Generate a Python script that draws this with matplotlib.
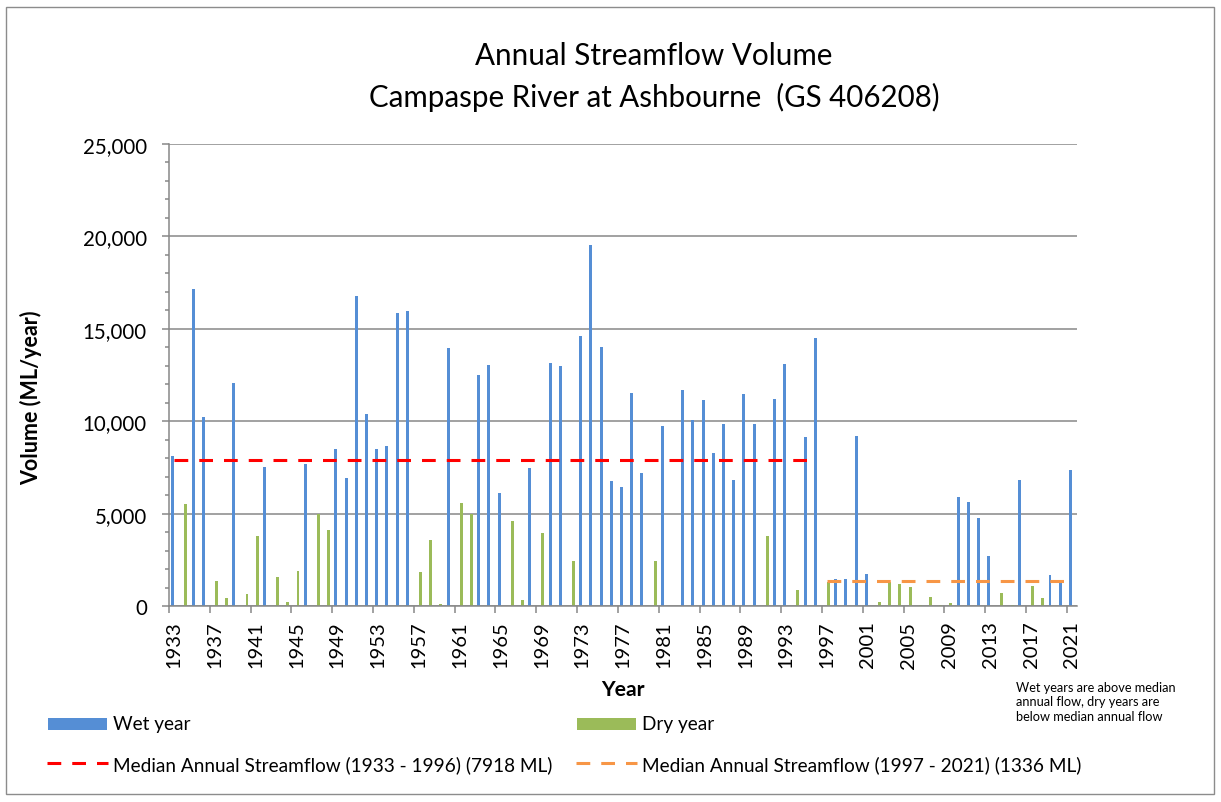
import matplotlib
matplotlib.use("Agg")
import matplotlib.pyplot as plt
from matplotlib.lines import Line2D
from matplotlib.patches import Rectangle
from matplotlib.ticker import FuncFormatter, FixedLocator
import numpy as np

# ---------------- data ----------------
years = list(range(1933, 2022))
flow_ml = [
    8100, 5500, 17130, 10230, 1350, 420, 12080, 650, 3790, 7510,      # 1933-1942
    1590, 240, 1880, 7710, 4960, 4100, 8500, 6900, 16800, 10400,      # 1943-1952
    8520, 8660, 15850, 15970, 1860, 3570, 110, 13950, 5560, 4970,     # 1953-1962
    12490, 13050, 6100, 4590, 330, 7470, 3950, 13140, 13000, 2460,    # 1963-1972
    14620, 19530, 14010, 6750, 6460, 11530, 7200, 2440, 9730, 0,      # 1973-1982
    11680, 10050, 11160, 8290, 9860, 6820, 11480, 9860, 3790, 11210,  # 1983-1992
    13090, 870, 9130, 14510, 1300, 1440, 1440, 9210, 1720, 200,       # 1993-2002
    1300, 1190, 1050, 30, 470, 30, 140, 5880, 5610, 4750,             # 2003-2012
    2730, 700, 40, 6810, 1100, 430, 1680, 1410, 7360,                 # 2013-2021
]
year_type = list(
    "WDWWDDWDDW"
    "DDDWDDWWWW"
    "WWWWDDDWDD"
    "WWWDDWDWWD"
    "WWWWWWWDWD"
    "WWWWWWWWDW"
    "WDWWDWWWWD"
    "DDDDDDDWWW"
    "WDDWDDWWW"
)
median_early = 7918   # 1933 - 1996
median_late = 1336    # 1997 - 2021
early_period = (1933, 1996)
late_period = (1997, 2021)
tick_years = years[::4]

wet_label = "Wet year"
dry_label = "Dry year"
early_label = "Median Annual Streamflow (1933 - 1996) (7918 ML)"
late_label = "Median Annual Streamflow (1997 - 2021) (1336 ML)"
note_text = "Wet years are above median\nannual flow, dry years are\nbelow median annual flow"

# ---------------- style ----------------
BLUE = "#558ED5"
GREEN = "#9BBB59"
RED = "#FF0000"
ORANGE = "#F79646"
GRID = "#878787"

W, H, DPI = 1221, 803, 100
plt.rcParams["font.family"] = ["Lato", "DejaVu Sans"]
fig = plt.figure(figsize=(W / DPI, H / DPI), dpi=DPI)
fig.patch.set_facecolor("white")


def fx(px):
    return px / W


def fy(py):
    return 1 - py / H


# outer chart border
fig.add_artist(Rectangle((fx(6), fy(795)), fx(1214) - fx(6), fy(8) - fy(795),
                         transform=fig.transFigure, fill=False,
                         edgecolor="#8C8C8C", linewidth=1.0))

ax = fig.add_axes([fx(169), fy(607), fx(1077) - fx(169), fy(145) - fy(607)])

x = np.arange(len(years))
flow = np.array(flow_ml, dtype=float)
types = np.array(year_type)
wet = types == "W"
dry = types == "D"
bw = 0.29
ax.bar(x[wet] - bw / 2, flow[wet], width=bw, color=BLUE, linewidth=0, zorder=3)
ax.bar(x[dry] + bw / 2, flow[dry], width=bw, color=GREEN, linewidth=0, zorder=3)

yrs = np.array(years)
e_idx = x[(yrs >= early_period[0]) & (yrs <= early_period[1])]
l_idx = x[(yrs >= late_period[0]) & (yrs <= late_period[1])]
dash = (4.5, 3.6)
lw = 2.2
ax.plot(e_idx, [median_early] * len(e_idx), color=RED, lw=lw,
        dashes=dash, solid_capstyle="butt", dash_capstyle="butt", zorder=4)
ax.plot(l_idx, [median_late] * len(l_idx), color=ORANGE, lw=lw,
        dashes=dash, solid_capstyle="butt", dash_capstyle="butt", zorder=4)

ax.set_xlim(-0.5, len(years) - 0.5)
ax.set_ylim(0, 25000)

# x ticks: marks at category boundaries, labels at centres
ax.xaxis.set_major_locator(FixedLocator(np.arange(-0.5, len(years), 4)))
ax.xaxis.set_minor_locator(FixedLocator([years.index(y) for y in tick_years]))
ax.set_xticklabels([], minor=False)
ax.set_xticklabels([str(y) for y in tick_years], minor=True, rotation=90)
ax.tick_params(axis="x", which="major", length=7 * 72 / DPI, width=1.1,
               color=GRID, direction="out")
ax.tick_params(axis="x", which="minor", length=0, pad=10.5, labelsize=14.5,
               labelcolor="black")

# y ticks
ax.set_yticks(np.arange(0, 25001, 5000))
ax.yaxis.set_minor_locator(FixedLocator(np.arange(0, 25001, 1000)))
ax.yaxis.set_major_formatter(FuncFormatter(lambda v, p: f"{int(v):,}"))
ax.tick_params(axis="y", which="major", length=7 * 72 / DPI, width=1.1,
               color=GRID, direction="out", pad=10.8, labelsize=14.8,
               labelcolor="black")
ax.tick_params(axis="y", which="minor", length=4 * 72 / DPI, width=1.1,
               color=GRID, direction="out")

ax.yaxis.grid(True, which="major", color=GRID, linewidth=1.1, zorder=0)
ax.set_axisbelow(True)
for s in ("top", "right"):
    ax.spines[s].set_visible(False)
for s in ("left", "bottom"):
    ax.spines[s].set_color(GRID)
    ax.spines[s].set_linewidth(1.1)
    ax.spines[s].set_zorder(5)

# titles and axis labels
t1 = fig.text(fx(654), fy(65), "Annual Streamflow Volume", ha="center",
              va="baseline", fontsize=19, color="black")
t2 = fig.text(fx(654.5), fy(107), "Campaspe River at Ashbourne  (GS 406208)",
              ha="center", va="baseline", fontsize=19, color="black")
yl = fig.text(fx(31), fy(398), "Volume (ML/year)", rotation=90, ha="center",
              va="center", fontsize=14, fontweight="bold", color="black")
xl = fig.text(fx(623), fy(690), "Year", ha="center", va="center",
              fontsize=14, fontweight="bold", color="black")

# legend
fig.add_artist(Rectangle((fx(48), fy(731)), fx(107) - fx(48), fy(719) - fy(731),
                         transform=fig.transFigure, color=BLUE, linewidth=0))
fig.add_artist(Rectangle((fx(577), fy(731)), fx(636) - fx(577), fy(719) - fy(731),
                         transform=fig.transFigure, color=GREEN, linewidth=0))
fig.add_artist(Line2D([fx(47), fx(108)], [fy(764), fy(764)], transform=fig.transFigure,
                      color=RED, lw=lw, dashes=dash, dash_capstyle="butt"))
fig.add_artist(Line2D([fx(576), fx(637)], [fy(764), fy(764)], transform=fig.transFigure,
                      color=ORANGE, lw=lw, dashes=dash, dash_capstyle="butt"))
lt1 = fig.text(fx(113), fy(725), wet_label, ha="left", va="center", fontsize=14)
lt2 = fig.text(fx(642), fy(725), dry_label, ha="left", va="center", fontsize=14)
lt3 = fig.text(fx(113), fy(765), early_label, ha="left", va="center", fontsize=14)
lt4 = fig.text(fx(642), fy(765), late_label, ha="left", va="center", fontsize=14)

nt = fig.text(fx(1016), fy(682), note_text, ha="left", va="top", fontsize=9,
              linespacing=1.25)

# ---- fit text sizes to the reference's measured extents ----
fig.canvas.draw()
r = fig.canvas.get_renderer()


def scale(t, target, rotated=False):
    bb = t.get_window_extent(r)
    cur = bb.height if rotated else bb.width
    t.set_fontsize(t.get_fontsize() * target / cur)


scale(t1, 358)
scale(t2, 571)
scale(yl, 176, rotated=True)
scale(xl, 44)
bb = lt4.get_window_extent(r)
fs_leg = lt4.get_fontsize() * 440 / bb.width
for t in (lt1, lt2, lt3, lt4):
    t.set_fontsize(fs_leg)
first_line = fig.text(0, 0, "Wet years are above median", fontsize=9)
w0 = first_line.get_window_extent(r).width
first_line.remove()
nt.set_fontsize(9 * 161 / w0)

fig.savefig("out.png", dpi=DPI, facecolor="white")
